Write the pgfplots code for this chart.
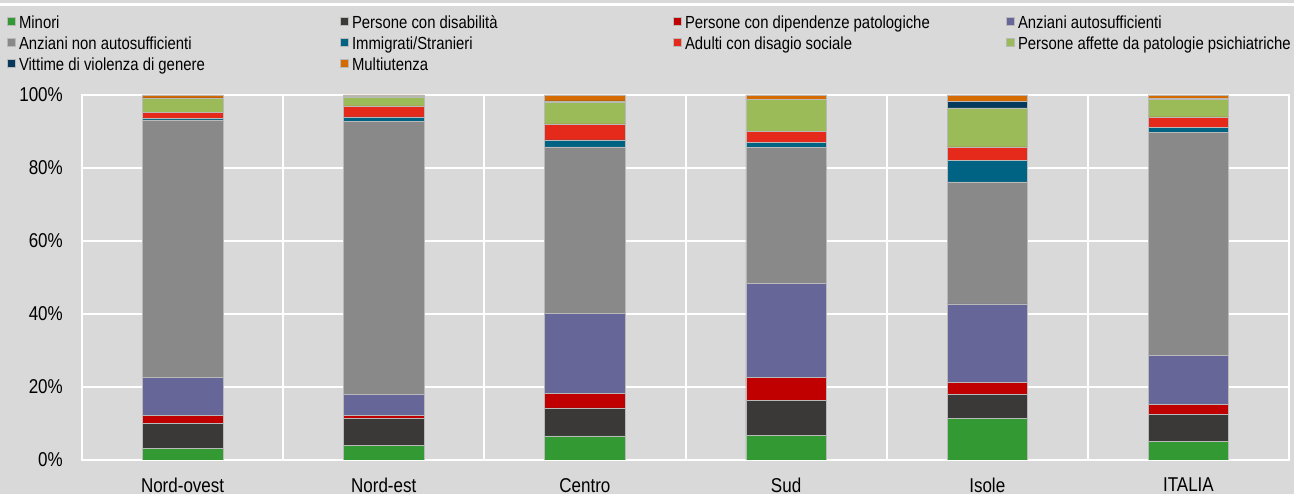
\documentclass[border=0pt]{standalone}
\usepackage{fontspec}
\setmainfont[FakeStretch=0.85]{Liberation Sans}
\usepackage{pgfplots}
\pgfplotsset{compat=1.18}
\usepackage{pgfplotstable}

\definecolor{bg}{HTML}{D9D9D9}
\definecolor{cMin}{HTML}{339933}
\definecolor{cDis}{HTML}{3A3938}
\definecolor{cDip}{HTML}{C00000}
\definecolor{cAAu}{HTML}{666699}
\definecolor{cANa}{HTML}{898989}
\definecolor{cImm}{HTML}{006384}
\definecolor{cAdu}{HTML}{E5291B}
\definecolor{cPsi}{HTML}{9BBB59}
\definecolor{cVit}{HTML}{063A5C}
\definecolor{cMul}{HTML}{D46A00}

% quote percentuali per ripartizione (dal basso verso l'alto)
\pgfplotstableread{
x Min Dis Dip AAu ANa Imm Adu Psi Vit Mul
0 3.2 6.8 2.3 10.3 70.6 0.3 1.8 3.7 0.2 0.8
1 4.1 7.3 0.9 5.7 74.7 1.3 3.0 2.5 0.1 0.4
2 6.6 7.7 3.9 21.9 45.7 1.9 4.4 6.0 0.3 1.6
3 6.8 9.6 6.2 25.8 37.2 1.5 2.9 8.7 0.2 1.1
4 11.4 6.5 3.3 21.6 33.4 5.9 3.7 10.7 1.7 1.8
5 5.2 7.3 2.8 13.3 61.1 1.4 2.9 4.7 0.3 1.0
}\quote

\begin{document}
\begin{tikzpicture}
\useasboundingbox[fill=bg] (-82bp,-34bp) rectangle (1212bp,460bp);
\draw[white, line width=3bp] (-82bp,455bp) -- (1212bp,455bp);
\begin{axis}[
    at={(0,0)}, anchor=south west,
    scale only axis, width=1207bp, height=365bp,
    ybar stacked, bar width=0.4,
    xmin=-0.5, xmax=5.5, ymin=0, ymax=100,
    xtick={0,...,5},
    xticklabels={Nord-ovest,Nord-est,Centro,Sud,Isole,ITALIA},
    minor xtick={0.5,1.5,2.5,3.5,4.5},
    ytick={0,20,...,100},
    yticklabels={0\%,20\%,40\%,60\%,80\%,100\%},
    tick style={draw=none},
    major tick length=0pt, minor tick length=0pt,
    ymajorgrids, xminorgrids,
    grid style={white, line width=2bp},
    minor grid style={white, line width=2bp},
    axis line style={white, line width=2bp},
    tick label style={font=\fontsize{20bp}{24bp}\selectfont, inner sep=0pt},
    xticklabel style={anchor=north, yshift=-18bp},
    yticklabel style={anchor=east, xshift=-19bp},
    legend columns=4,
    legend image code/.code={\fill[#1] (0bp,-1.5bp) rectangle (8bp,6.5bp);},
    legend style={
        at={(-0.0621,1.2165)}, anchor=north west,
        draw=none, fill=none, inner sep=0pt, outer sep=0pt,
        font=\fontsize{17.5bp}{21bp}\selectfont,
        nodes={inner sep=0pt, text height=12.5bp, text depth=3.5bp},
        /tikz/row sep=5bp,
        /tikz/every odd column/.append style={column sep=3.5bp},
    },
    legend cell align=left,
]
\addplot[fill=cMin, draw=gray!55, line width=0.5bp] table[x=x, y=Min] {\quote};
\addplot[fill=cDis, draw=gray!55, line width=0.5bp] table[x=x, y=Dis] {\quote};
\addplot[fill=cDip, draw=gray!55, line width=0.5bp] table[x=x, y=Dip] {\quote};
\addplot[fill=cAAu, draw=gray!55, line width=0.5bp] table[x=x, y=AAu] {\quote};
\addplot[fill=cANa, draw=gray!55, line width=0.5bp] table[x=x, y=ANa] {\quote};
\addplot[fill=cImm, draw=gray!55, line width=0.5bp] table[x=x, y=Imm] {\quote};
\addplot[fill=cAdu, draw=gray!55, line width=0.5bp] table[x=x, y=Adu] {\quote};
\addplot[fill=cPsi, draw=gray!55, line width=0.5bp] table[x=x, y=Psi] {\quote};
\addplot[fill=cVit, draw=gray!55, line width=0.5bp] table[x=x, y=Vit] {\quote};
\addplot[fill=cMul, draw=gray!55, line width=0.5bp] table[x=x, y=Mul] {\quote};
\legend{
    \makebox[321bp][l]{Minori},
    \makebox[321bp][l]{Persone con disabilità},
    \makebox[321bp][l]{Persone con dipendenze patologiche},
    \makebox[280bp][l]{Anziani autosufficienti},
    Anziani non autosufficienti,
    Immigrati/Stranieri,
    Adulti con disagio sociale,
    Persone affette da patologie psichiatriche,
    Vittime di violenza di genere,
    Multiutenza}
\end{axis}
\end{tikzpicture}
\end{document}
